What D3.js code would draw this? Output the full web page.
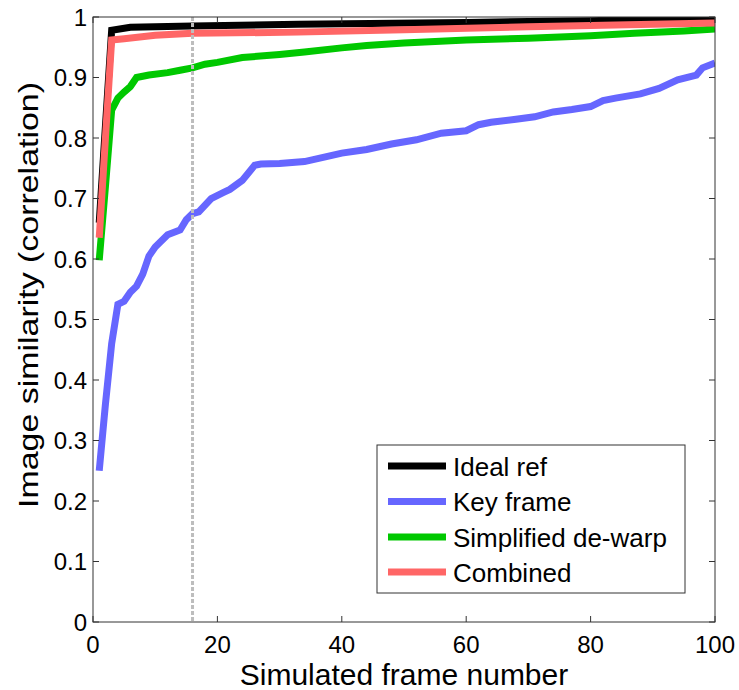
<!DOCTYPE html>
<html>
<head>
<meta charset="utf-8">
<script src="https://cdn.jsdelivr.net/npm/d3@7"></script>
<style>
  body { margin: 0; background: #fff; }
</style>
</head>
<body>
<div id="chart"></div>
<script>
// data: [frame, correlation]
const idealRef = [[1,0.66],[2,0.82],[3,0.978],[6,0.983],[16,0.985],[33,0.988],[60,0.991],[80,0.994],[100,0.997]];
const keyFrame = [[1,0.25],[2,0.36],[3,0.46],[4,0.525],[5,0.53],[6,0.545],[7,0.555],[8,0.575],[9,0.605],[10,0.62],
  [12,0.64],[14,0.648],[15,0.665],[16,0.675],[17,0.678],[19,0.7],[21,0.71],[22,0.715],[24,0.73],[26,0.755],
  [27,0.757],[30,0.758],[34,0.761],[37,0.768],[40,0.775],[44,0.781],[48,0.79],[52,0.797],[56,0.808],[60,0.812],
  [62,0.822],[64,0.826],[68,0.831],[71,0.835],[74,0.843],[77,0.847],[80,0.852],[82,0.862],[84,0.866],[88,0.873],
  [91,0.882],[94,0.896],[97,0.904],[98,0.916],[100,0.924]];
const simplified = [[1,0.598],[2,0.72],[3,0.846],[4,0.866],[5,0.876],[6,0.885],[7,0.9],[9,0.904],[12,0.908],[14,0.912],
  [16,0.916],[18,0.922],[20,0.925],[24,0.933],[30,0.938],[34,0.942],[40,0.949],[44,0.953],[50,0.957],[60,0.962],
  [70,0.965],[80,0.969],[87,0.973],[95,0.977],[100,0.98]];
const combined = [[1,0.635],[2,0.80],[3,0.962],[5,0.964],[10,0.97],[16,0.973],[33,0.975],[50,0.979],[70,0.984],[90,0.988],[100,0.99]];

const seriesNames = ["Ideal ref", "Key frame", "Simplified de-warp", "Combined"];
const seriesData = [idealRef, keyFrame, simplified, combined];
const seriesColors = ["#000000", "#6666ff", "#00c800", "#ff6666"];
const markerFrame = 16;
const xTickValues = [0, 20, 40, 60, 80, 100];
const yTickValues = [0, 0.1, 0.2, 0.3, 0.4, 0.5, 0.6, 0.7, 0.8, 0.9, 1];

const width = 739, height = 690;
const margin = { top: 17, right: 24, bottom: 68, left: 93 };
const plotW = width - margin.left - margin.right;
const plotH = height - margin.top - margin.bottom;
const font = "Arial, 'Liberation Sans', Helvetica, sans-serif";
const axisColor = "#333";

const svg = d3.select("#chart").append("svg")
    .attr("width", width)
    .attr("height", height)
    .style("background", "#fff");

const g = svg.append("g").attr("transform", `translate(${margin.left},${margin.top})`);

const x = d3.scaleLinear().domain([0, 100]).range([0, plotW]);
const y = d3.scaleLinear().domain([0, 1]).range([plotH, 0]);

svg.append("defs").append("clipPath").attr("id", "plot-clip")
  .append("rect").attr("width", plotW).attr("height", plotH);

// lines
const line = d3.line().x(d => x(d[0])).y(d => y(d[1]));
const lines = g.append("g").attr("clip-path", "url(#plot-clip)");
seriesData.forEach((s, i) => {
    lines.append("path")
        .datum(s)
        .attr("d", line)
        .attr("fill", "none")
        .attr("stroke", seriesColors[i])
        .attr("stroke-width", 7)
        .attr("stroke-linejoin", "miter");
});

// dashed marker line
g.append("line")
    .attr("x1", x(markerFrame)).attr("x2", x(markerFrame))
    .attr("y1", 0).attr("y2", plotH)
    .attr("stroke", "#bdbdbd")
    .attr("stroke-width", 3)
    .attr("stroke-dasharray", "4,2");

// box + inward ticks on all sides
g.append("rect")
    .attr("width", plotW).attr("height", plotH)
    .attr("fill", "none").attr("stroke", axisColor).attr("stroke-width", 1);

const tickLen = 6;
xTickValues.forEach(t => {
    g.append("line").attr("x1", x(t)).attr("x2", x(t)).attr("y1", plotH).attr("y2", plotH - tickLen)
        .attr("stroke", axisColor);
    g.append("line").attr("x1", x(t)).attr("x2", x(t)).attr("y1", 0).attr("y2", tickLen)
        .attr("stroke", axisColor);
    g.append("text")
        .attr("x", x(t)).attr("y", plotH + 31)
        .attr("text-anchor", "middle")
        .style("font-family", font).style("font-size", "24px").style("fill", "#000")
        .text(d3.format("d")(t));
});
yTickValues.forEach(t => {
    g.append("line").attr("x1", 0).attr("x2", tickLen).attr("y1", y(t)).attr("y2", y(t))
        .attr("stroke", axisColor);
    g.append("line").attr("x1", plotW).attr("x2", plotW - tickLen).attr("y1", y(t)).attr("y2", y(t))
        .attr("stroke", axisColor);
    g.append("text")
        .attr("x", -6).attr("y", y(t) + 8.5)
        .attr("text-anchor", "end")
        .style("font-family", font).style("font-size", "24px").style("fill", "#000")
        .text(t === 0 || t === 1 ? d3.format("d")(t) : d3.format(".1f")(t));
});

// axis titles
g.append("text")
    .attr("x", plotW / 2).attr("y", plotH + 63)
    .attr("text-anchor", "middle")
    .style("font-family", font).style("font-size", "30px").style("fill", "#000")
    .text("Simulated frame number");

svg.append("text")
    .attr("transform", `translate(38,295) rotate(-90)`)
    .attr("text-anchor", "middle")
    .attr("textLength", 426)
    .attr("lengthAdjust", "spacingAndGlyphs")
    .style("font-family", font).style("font-size", "28px").style("fill", "#000")
    .text("Image similarity (correlation)");

// legend
const legend = svg.append("g").attr("transform", "translate(377,445)");
legend.append("rect")
    .attr("width", 308).attr("height", 148)
    .attr("fill", "#fff").attr("stroke", axisColor).attr("stroke-width", 1);
const rowY = [21, 56.5, 92, 127];
seriesNames.forEach((name, i) => {
    legend.append("line")
        .attr("x1", 11).attr("x2", 69)
        .attr("y1", rowY[i]).attr("y2", rowY[i])
        .attr("stroke", seriesColors[i]).attr("stroke-width", 7);
    legend.append("text")
        .attr("x", 76).attr("y", rowY[i] + 9.5)
        .style("font-family", font).style("font-size", "26px").style("fill", "#000")
        .text(name);
});
</script>
</body>
</html>
